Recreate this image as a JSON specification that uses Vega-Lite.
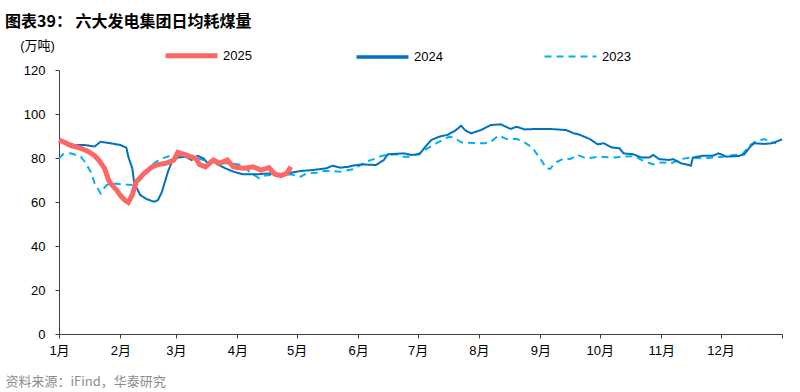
{
  "$schema": "https://vega.github.io/schema/vega-lite/v6.json",
  "autosize": "none",
  "width": 723,
  "height": 264,
  "padding": {"left": 59, "top": 70, "right": 18, "bottom": 58},
  "background": "white",
  "title": {
    "text": "图表39：  六大发电集团日均耗煤量",
    "anchor": "start",
    "frame": "group",
    "orient": "top",
    "dx": -54,
    "dy": 19,
    "offset": 16,
    "font": "Noto Sans CJK SC",
    "fontSize": 16,
    "fontWeight": "bold",
    "color": "#000000"
  },
  "datasets": {
    "series": [
      {"year":"2025","day":0,"value":88.2},{"year":"2025","day":3,"value":87},{"year":"2025","day":6,"value":85.6},{"year":"2025","day":9,"value":85},{"year":"2025","day":11,"value":84.4},{"year":"2025","day":15,"value":82.9},{"year":"2025","day":18,"value":81},{"year":"2025","day":20,"value":79.1},{"year":"2025","day":23,"value":75.3},{"year":"2025","day":25,"value":70},{"year":"2025","day":26,"value":68.5},{"year":"2025","day":29,"value":65.5},{"year":"2025","day":31,"value":63},{"year":"2025","day":33,"value":61},{"year":"2025","day":35,"value":59.8},{"year":"2025","day":37,"value":63.2},{"year":"2025","day":39,"value":69.2},{"year":"2025","day":43,"value":73},{"year":"2025","day":47,"value":76},{"year":"2025","day":50,"value":77},{"year":"2025","day":54,"value":77.6},{"year":"2025","day":58,"value":79.1},{"year":"2025","day":60,"value":82.6},{"year":"2025","day":64,"value":81.4},{"year":"2025","day":69,"value":79.8},{"year":"2025","day":71,"value":77},{"year":"2025","day":74,"value":76},{"year":"2025","day":78,"value":79.1},{"year":"2025","day":81,"value":77.6},{"year":"2025","day":85,"value":79.1},{"year":"2025","day":88,"value":76},{"year":"2025","day":93,"value":75.3},{"year":"2025","day":98,"value":76},{"year":"2025","day":102,"value":74.5},{"year":"2025","day":106,"value":75.6},{"year":"2025","day":109,"value":72.6},{"year":"2025","day":112,"value":72},{"year":"2025","day":115,"value":73},{"year":"2025","day":117,"value":76},
      {"year":"2024","day":0,"value":87.7},{"year":"2024","day":5,"value":86.7},{"year":"2024","day":8,"value":85.9},{"year":"2024","day":13,"value":85.9},{"year":"2024","day":18,"value":85.2},{"year":"2024","day":21,"value":87.4},{"year":"2024","day":26,"value":86.7},{"year":"2024","day":31,"value":85.9},{"year":"2024","day":34,"value":84.7},{"year":"2024","day":35,"value":80.6},{"year":"2024","day":37,"value":75.3},{"year":"2024","day":38,"value":68.5},{"year":"2024","day":41,"value":63.2},{"year":"2024","day":44,"value":61.4},{"year":"2024","day":48,"value":60.1},{"year":"2024","day":50,"value":60.9},{"year":"2024","day":52,"value":64.7},{"year":"2024","day":53,"value":67.7},{"year":"2024","day":55,"value":73.8},{"year":"2024","day":57,"value":78.3},{"year":"2024","day":60,"value":80.2},{"year":"2024","day":64,"value":80.6},{"year":"2024","day":67,"value":79.1},{"year":"2024","day":70,"value":81},{"year":"2024","day":73,"value":79.8},{"year":"2024","day":75,"value":77.6},{"year":"2024","day":77,"value":79.1},{"year":"2024","day":80,"value":77.1},{"year":"2024","day":84,"value":75.3},{"year":"2024","day":88,"value":73.8},{"year":"2024","day":93,"value":72.6},{"year":"2024","day":100,"value":72.6},{"year":"2024","day":106,"value":73},{"year":"2024","day":112,"value":72.3},{"year":"2024","day":117,"value":73.3},{"year":"2024","day":122,"value":74.1},{"year":"2024","day":128,"value":74.5},{"year":"2024","day":135,"value":75.3},{"year":"2024","day":138,"value":76.5},{"year":"2024","day":142,"value":75.6},{"year":"2024","day":146,"value":76},{"year":"2024","day":148,"value":76.5},{"year":"2024","day":153,"value":77.1},{"year":"2024","day":160,"value":76.8},{"year":"2024","day":164,"value":79.1},{"year":"2024","day":166,"value":81.7},{"year":"2024","day":174,"value":82.1},{"year":"2024","day":178,"value":81.4},{"year":"2024","day":182,"value":81.7},{"year":"2024","day":185,"value":85.2},{"year":"2024","day":188,"value":88.2},{"year":"2024","day":192,"value":89.7},{"year":"2024","day":196,"value":90.5},{"year":"2024","day":200,"value":92.4},{"year":"2024","day":203,"value":94.7},{"year":"2024","day":205,"value":92.7},{"year":"2024","day":208,"value":91.2},{"year":"2024","day":213,"value":92.7},{"year":"2024","day":218,"value":95},{"year":"2024","day":223,"value":95.3},{"year":"2024","day":228,"value":93.2},{"year":"2024","day":231,"value":94.2},{"year":"2024","day":235,"value":93},{"year":"2024","day":241,"value":93.2},{"year":"2024","day":248,"value":93.2},{"year":"2024","day":256,"value":92.7},{"year":"2024","day":260,"value":91.2},{"year":"2024","day":263,"value":90.5},{"year":"2024","day":268,"value":88.6},{"year":"2024","day":272,"value":86.2},{"year":"2024","day":275,"value":86.7},{"year":"2024","day":279,"value":84.8},{"year":"2024","day":283,"value":84.4},{"year":"2024","day":285,"value":82.1},{"year":"2024","day":290,"value":81.7},{"year":"2024","day":294,"value":80.2},{"year":"2024","day":298,"value":80.2},{"year":"2024","day":300,"value":81.4},{"year":"2024","day":303,"value":79.5},{"year":"2024","day":308,"value":79.1},{"year":"2024","day":310,"value":79.5},{"year":"2024","day":314,"value":77.6},{"year":"2024","day":318,"value":76.8},{"year":"2024","day":319,"value":76.5},{"year":"2024","day":320,"value":80.2},{"year":"2024","day":325,"value":81},{"year":"2024","day":330,"value":81},{"year":"2024","day":333,"value":82.1},{"year":"2024","day":337,"value":80.6},{"year":"2024","day":343,"value":80.9},{"year":"2024","day":346,"value":81.7},{"year":"2024","day":349,"value":85.2},{"year":"2024","day":351,"value":86.7},{"year":"2024","day":356,"value":86.4},{"year":"2024","day":360,"value":86.7},{"year":"2024","day":362,"value":87.4},{"year":"2024","day":365,"value":88.5},
      {"year":"2023","day":0,"value":79.8},{"year":"2023","day":2,"value":81.7},{"year":"2023","day":6,"value":82.1},{"year":"2023","day":11,"value":80.6},{"year":"2023","day":13,"value":78.3},{"year":"2023","day":16,"value":73.8},{"year":"2023","day":18,"value":68.5},{"year":"2023","day":21,"value":63.9},{"year":"2023","day":22,"value":65.5},{"year":"2023","day":24,"value":67.7},{"year":"2023","day":27,"value":68.5},{"year":"2023","day":32,"value":68},{"year":"2023","day":37,"value":67.7},{"year":"2023","day":40,"value":69.2},{"year":"2023","day":43,"value":72.3},{"year":"2023","day":46,"value":76},{"year":"2023","day":49,"value":78.3},{"year":"2023","day":52,"value":79.8},{"year":"2023","day":56,"value":81},{"year":"2023","day":61,"value":81.4},{"year":"2023","day":65,"value":80.6},{"year":"2023","day":70,"value":79.8},{"year":"2023","day":76,"value":78.5},{"year":"2023","day":81,"value":77.6},{"year":"2023","day":86,"value":77.6},{"year":"2023","day":93,"value":76.8},{"year":"2023","day":96,"value":73.8},{"year":"2023","day":101,"value":70.8},{"year":"2023","day":104,"value":72},{"year":"2023","day":107,"value":72.3},{"year":"2023","day":112,"value":72.3},{"year":"2023","day":117,"value":72.6},{"year":"2023","day":122,"value":71.5},{"year":"2023","day":125,"value":73},{"year":"2023","day":130,"value":73.3},{"year":"2023","day":133,"value":74.1},{"year":"2023","day":138,"value":74.1},{"year":"2023","day":142,"value":73.8},{"year":"2023","day":144,"value":74.1},{"year":"2023","day":149,"value":75},{"year":"2023","day":155,"value":78.3},{"year":"2023","day":160,"value":79.8},{"year":"2023","day":163,"value":81},{"year":"2023","day":170,"value":81.7},{"year":"2023","day":174,"value":80.6},{"year":"2023","day":178,"value":80.6},{"year":"2023","day":183,"value":82.6},{"year":"2023","day":186,"value":84.4},{"year":"2023","day":192,"value":87.4},{"year":"2023","day":197,"value":89.7},{"year":"2023","day":200,"value":89},{"year":"2023","day":203,"value":87.1},{"year":"2023","day":210,"value":86.8},{"year":"2023","day":215,"value":86.7},{"year":"2023","day":218,"value":87.4},{"year":"2023","day":222,"value":90.2},{"year":"2023","day":226,"value":88.6},{"year":"2023","day":231,"value":88.6},{"year":"2023","day":234,"value":87.7},{"year":"2023","day":239,"value":84.7},{"year":"2023","day":241,"value":82.1},{"year":"2023","day":244,"value":78.3},{"year":"2023","day":246,"value":75.3},{"year":"2023","day":248,"value":75},{"year":"2023","day":250,"value":77.6},{"year":"2023","day":255,"value":79.8},{"year":"2023","day":258,"value":79.5},{"year":"2023","day":262,"value":81.4},{"year":"2023","day":266,"value":79.8},{"year":"2023","day":273,"value":80.6},{"year":"2023","day":280,"value":80.2},{"year":"2023","day":285,"value":80.6},{"year":"2023","day":291,"value":80.8},{"year":"2023","day":294,"value":79.1},{"year":"2023","day":296,"value":78.3},{"year":"2023","day":300,"value":77.1},{"year":"2023","day":304,"value":78},{"year":"2023","day":309,"value":77.6},{"year":"2023","day":314,"value":79.5},{"year":"2023","day":319,"value":80.2},{"year":"2023","day":325,"value":79.8},{"year":"2023","day":330,"value":80.2},{"year":"2023","day":335,"value":80.6},{"year":"2023","day":341,"value":81.4},{"year":"2023","day":345,"value":81.7},{"year":"2023","day":349,"value":85.9},{"year":"2023","day":352,"value":87.7},{"year":"2023","day":356,"value":88.6},{"year":"2023","day":359,"value":87.4},{"year":"2023","day":362,"value":86.7}
    ]
  },
  "data": {"name": "series"},
  "encoding": {
    "x": {
      "field": "day",
      "type": "quantitative",
      "scale": {"domain": [0, 365], "nice": false, "zero": false},
      "axis": {
        "values": [0, 31, 59, 90, 120, 151, 181, 212, 243, 273, 304, 334, 365],
        "labelExpr": "datum.value >= 365 ? '' : (indexof([0,31,59,90,120,151,181,212,243,273,304,334], datum.value) + 1) + '月'",
        "grid": false,
        "domainColor": "#404040",
        "tickColor": "#404040",
        "tickSize": 4,
        "labelPadding": 6,
        "labelFont": "Liberation Sans, Noto Sans CJK SC",
        "labelFontSize": 13,
        "labelColor": "#000000",
        "labelFlush": false,
        "title": "资料来源：iFind，华泰研究",
        "titleX": -54,
        "titleY": 47,
        "titleAlign": "left",
        "titleAnchor": null,
        "titleBaseline": "middle",
        "titleFont": "Noto Sans CJK SC",
        "titleFontSize": 13,
        "titleFontWeight": "normal",
        "titleColor": "#8c8c8c"
      }
    },
    "y": {
      "field": "value",
      "type": "quantitative",
      "scale": {"domain": [0, 120], "nice": false},
      "axis": {
        "values": [0, 20, 40, 60, 80, 100, 120],
        "grid": false,
        "domainColor": "#404040",
        "tickColor": "#404040",
        "tickSize": 4,
        "labelPadding": 10,
        "labelFont": "Liberation Sans",
        "labelFontSize": 13,
        "labelColor": "#000000",
        "title": "(万吨)",
        "titleAngle": 0,
        "titleX": -22,
        "titleY": -25,
        "titleAlign": "center",
        "titleAnchor": null,
        "titleBaseline": "middle",
        "titleFont": "Liberation Sans, Noto Sans CJK SC",
        "titleFontSize": 13,
        "titleFontWeight": "normal",
        "titleColor": "#000000"
      }
    }
  },
  "layer": [
    {
      "data": {"values": [{}]},
      "mark": {"type": "rule", "color": "#93abc9", "strokeWidth": 1.5, "clip": false},
      "encoding": {
        "x": {"datum": -27.3, "type": "quantitative"},
        "x2": {"datum": 374.1},
        "y": {"datum": -15.3, "type": "quantitative"}
      }
    },
    {
      "transform": [{"filter": "datum.year == '2023'"}],
      "mark": {"type": "line", "interpolate": "linear", "strokeWidth": 2},
      "encoding": {
        "color": {"field": "year", "type": "nominal", "scale": {"domain": ["2025", "2024", "2023"], "range": ["#ff6666", "#0070c0", "#00b0f0"]}, "legend": {"title": null}},
        "strokeDash": {"field": "year", "type": "nominal", "scale": {"domain": ["2025", "2024", "2023"], "range": [[1, 0], [1, 0], [7, 5]]}, "legend": {"title": null}}
      }
    },
    {
      "transform": [{"filter": "datum.year == '2024'"}],
      "mark": {"type": "line", "interpolate": "linear", "strokeWidth": 2},
      "encoding": {
        "color": {"field": "year", "type": "nominal"},
        "strokeDash": {"field": "year", "type": "nominal"}
      }
    },
    {
      "transform": [{"filter": "datum.year == '2025'"}],
      "mark": {"type": "line", "interpolate": "linear"},
      "encoding": {
        "color": {"field": "year", "type": "nominal"},
        "strokeDash": {"field": "year", "type": "nominal"},
        "strokeWidth": {"field": "year", "type": "nominal", "scale": {"domain": ["2025", "2024", "2023"], "range": [5, 2]}, "legend": {"title": null}}
      }
    }
  ],
  "resolve": {"scale": {"color": "shared", "strokeDash": "shared", "strokeWidth": "shared"}},
  "config": {
    "view": {"stroke": null},
    "legend": {
      "orient": "none",
      "legendX": 104,
      "legendY": -43,
      "direction": "horizontal",
      "columns": 3,
      "columnPadding": 97,
      "symbolType": "stroke",
      "symbolSize": 2700,
      "labelFont": "Liberation Sans",
      "labelFontSize": 13,
      "labelColor": "#000000",
      "labelOffset": 3,
      "padding": 0
    }
  }
}
